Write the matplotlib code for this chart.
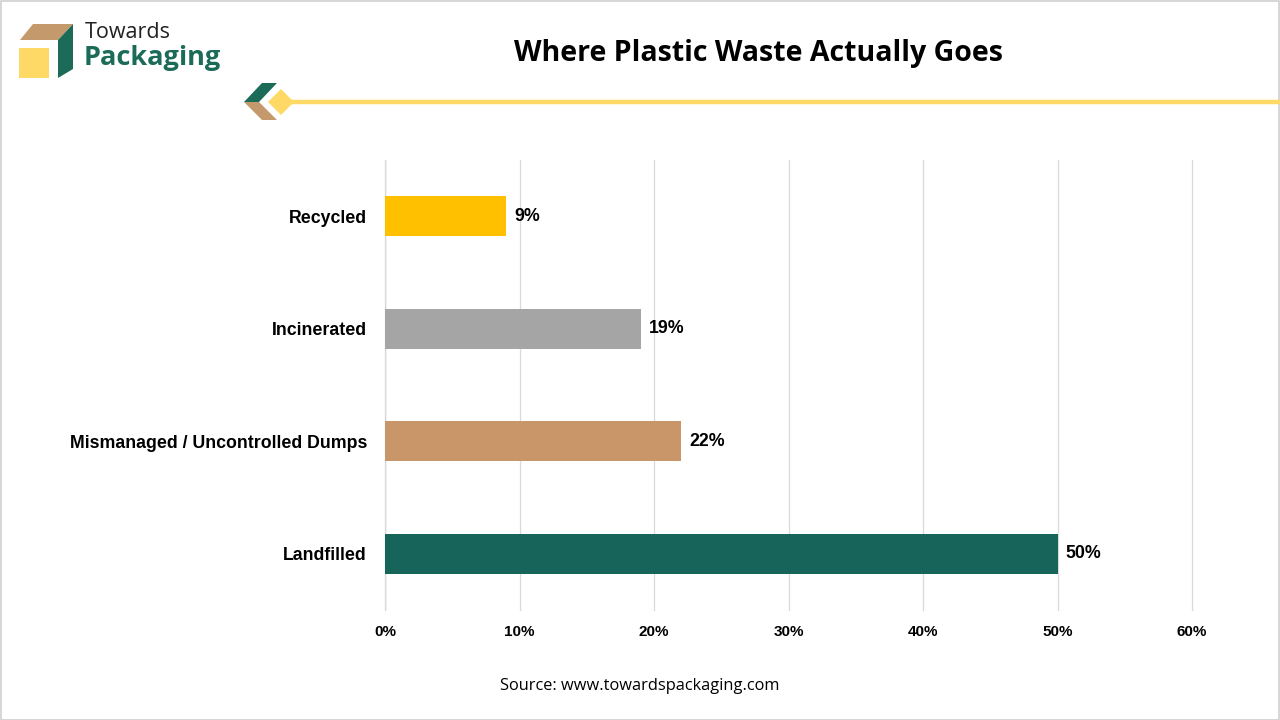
import matplotlib
matplotlib.use("Agg")
import matplotlib.pyplot as plt
from matplotlib.patches import Polygon, Rectangle
from matplotlib.lines import Line2D

# ── Data ─────────────────────────────────────────────────────────────────────
categories = ["Recycled", "Incinerated", "Mismanaged / Uncontrolled Dumps", "Landfilled"]
shares = [9, 19, 22, 50]
bar_colors = ["#FFC000", "#A5A5A5", "#C9966A", "#17655A"]
x_ticks = [0, 10, 20, 30, 40, 50, 60]

TITLE = "Where Plastic Waste Actually Goes"
SOURCE = "Source: www.towardspackaging.com"

W, H = 1280, 720
GREEN = "#1B6B58"
TAN = "#C49A6C"
YELLOW = "#FFD966"


def px(x, y):
    """pixel coords (top-left origin) -> figure fraction"""
    return x / W, 1 - y / H


def poly(fig, pts, color):
    fig.patches.append(Polygon([px(*p) for p in pts], closed=True, color=color,
                               transform=fig.transFigure, figure=fig, lw=0))


fig = plt.figure(figsize=(12.8, 7.2), dpi=100)
fig.patch.set_facecolor("white")

# thin border round the picture
fig.patches.append(Rectangle((0.0005, 0.0005), 0.999, 0.998, fill=False, ec="#D0D0D0",
                             lw=1.2, transform=fig.transFigure, figure=fig))

# ── Logo ─────────────────────────────────────────────────────────────────────
poly(fig, [(20, 40), (33, 24), (73, 24), (58, 40)], TAN)
poly(fig, [(19, 48), (49, 48), (49, 78), (19, 78)], YELLOW)
poly(fig, [(58, 40), (73, 24), (73, 69), (58, 78)], GREEN)
fig.text(*px(85, 32), "Towards", fontsize=15.5, color="#222222",
         family="Open Sans", va="center", ha="left")
fig.text(*px(84, 58), "Packaging", fontsize=19.5, color=GREEN, fontweight="bold",
         family="Open Sans", va="center", ha="left")

# decoration line
poly(fig, [(244, 102), (262, 83), (277, 83), (259, 102)], GREEN)
poly(fig, [(244, 102), (259, 102), (277, 120), (262, 120)], TAN)
poly(fig, [(268, 102), (281, 89), (294, 102), (281, 115)], YELLOW)
fig.lines.append(Line2D([292 / W, 1.0], [1 - 101.5 / H] * 2, color=YELLOW, lw=3.2,
                        transform=fig.transFigure, figure=fig))

fig.text(*px(759, 53), TITLE, fontsize=20.5, fontweight="bold", family="Open Sans",
         ha="center", va="center", color="black")

# ── Chart ────────────────────────────────────────────────────────────────────
ax = fig.add_axes([385 / W, 1 - 610 / H, (1192 - 385) / W, 450 / H])
ypos = list(range(len(categories)))
ax.barh(ypos, shares, height=0.355, color=bar_colors)
ax.set_ylim(len(categories) - 0.5, -0.5)
ax.set_xlim(0, 60)
ax.set_xticks(x_ticks)
ax.set_xticklabels([f"{t}%" for t in x_ticks], fontsize=11, fontweight="bold",
                   family="Liberation Sans")
ax.set_yticks(ypos)
ax.set_yticklabels(categories, fontsize=12.8, fontweight="bold", family="Liberation Sans")
ax.tick_params(axis="x", length=0, pad=11)
ax.tick_params(axis="y", length=0, pad=13)
ax.grid(axis="x", color="#D9D9D9", lw=0.9)
for gl in ax.get_xgridlines():
    gl.set_clip_on(False)
ax.set_axisbelow(True)
for s in ax.spines.values():
    s.set_visible(False)
ax.axvline(0, color="#C8C8C8", lw=1.0, zorder=0.5)

for y, v in zip(ypos, shares):
    ax.text(v + 0.6, y, f"{v}%", fontsize=12.8, fontweight="bold",
            family="Liberation Sans", va="center", ha="left")

fig.text(*px(640, 686), SOURCE, fontsize=11.8, family="Open Sans",
         ha="center", va="center", color="black")

fig.savefig("out.png", dpi=100, facecolor="white")
